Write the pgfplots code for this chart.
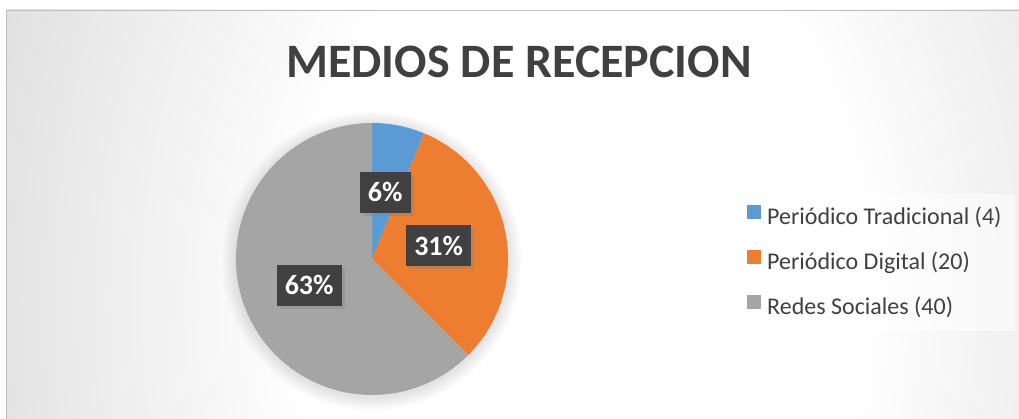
\documentclass[border=0pt]{standalone}
\usepackage{pgfplots}
\pgfplotsset{compat=1.18}
\usepackage{pgfplotstable}
\usepackage{fontspec}
\setmainfont{Carlito}
\usetikzlibrary{shadows}

\definecolor{slice0}{HTML}{5B9BD5}
\definecolor{slice1}{HTML}{ED7D31}
\definecolor{slice2}{HTML}{A5A5A5}
\definecolor{txt}{HTML}{404040}

\pgfdeclareradialshading{chartbg}{\pgfpoint{0bp}{0bp}}{%
  color(0bp)=(white); color(10bp)=(white); color(21bp)=(black!11);
  color(31bp)=(black!22); color(50bp)=(black!25)}

% values of the pie, clockwise from 12 o'clock
\pgfplotstableread{
id value
0 4
1 20
2 40
}\piedata

\tikzset{lbl/.style={fill=txt, text=white,
    font=\bfseries\fontsize{28}{33}\selectfont,
    inner xsep=8pt, inner ysep=0pt, minimum height=41pt,
    drop shadow={shadow xshift=3pt, shadow yshift=-3pt, opacity=0.35}}}

\begin{document}
\begin{tikzpicture}[x=1pt,y=1pt]
\useasboundingbox (0,0) rectangle (1019,419);
\begin{scope}
  \clip (6,0) rectangle (1019,409);
  \shade[shading=chartbg] (580,119) ellipse [x radius=700, y radius=1000];
\end{scope}
\draw[black!25, line width=0.8pt] (6,0) -- (6,409) -- (1019,409);

% soft shadow round the pie
\foreach \r in {1,...,14} \fill[black, opacity=0.008] (372,158) circle (136+\r);

\node[font=\bfseries\fontsize{48}{57}\selectfont, text=txt] at (519,357) {MEDIOS DE RECEPCION};

% total of the values
\pgfplotstablegetrowsof{\piedata}
\pgfmathtruncatemacro{\nrows}{\pgfplotsretval-1}
\gdef\total{0}
\foreach \i in {0,...,\nrows}{%
  \pgfplotstablegetelem{\i}{value}\of\piedata
  \pgfmathsetmacro{\s}{\total+\pgfplotsretval}\xdef\total{\s}}

\begin{axis}[
  at={(372pt,160pt)}, anchor=origin,
  x=136pt, y=136pt,
  xmin=-1, xmax=1, ymin=-1, ymax=1,
  hide axis, clip=false,
  legend image code/.code={\fill[#1, fill opacity=1] (0pt,0pt) rectangle (14pt,14pt);},
  legend cell align=left,
  legend style={at={(axis description cs:1.831,0.740)}, anchor=north west,
    draw=none, fill=white, fill opacity=0.5, text opacity=1,
    inner xsep=13pt, inner ysep=11pt, row sep=20pt,
    font=\fontsize{24}{29}\selectfont,
    nodes={inner sep=0pt, text height=17pt, text depth=5pt, text=txt},
    /tikz/every odd column/.append style={column sep=6pt}},
]
\gdef\cum{0}
\pgfplotsforeachungrouped \i in {0,...,\nrows}{%
  \pgfplotstablegetelem{\i}{value}\of\piedata
  \let\val\pgfplotsretval
  \pgfmathsetmacro{\a}{90-360*(\cum/\total)}
  \pgfmathsetmacro{\b}{90-360*((\cum+\val)/\total)}
  \edef\doslice{\noexpand\addplot[fill=slice\i, draw=none, domain=\b:\a,
      samples=90, variable=\noexpand\tt]
    ({cos(\noexpand\tt)},{sin(\noexpand\tt)}) -- (axis cs:0,0) -- cycle;}
  \doslice
  \pgfmathsetmacro{\c}{\cum+\val}\xdef\cum{\c}
}
\legend{Periódico Tradicional (4), Periódico Digital (20), Redes Sociales (40)}

% percentage labels at half the radius
\gdef\cum{0}
\pgfplotsforeachungrouped \i in {0,...,\nrows}{%
  \pgfplotstablegetelem{\i}{value}\of\piedata
  \let\val\pgfplotsretval
  \pgfmathsetmacro{\m}{90-360*((\cum+\val/2)/\total)}
  \pgfmathsetmacro{\lx}{0.5*cos(\m)}
  \pgfmathsetmacro{\ly}{0.5*sin(\m)}
  \pgfmathtruncatemacro{\p}{round(100*(\val/\total))}
  \edef\dolabel{\noexpand\node[lbl] at (axis cs:\lx,\ly) {\p\noexpand\%};}
  \dolabel
  \pgfmathsetmacro{\c}{\cum+\val}\xdef\cum{\c}
}
\end{axis}
\end{tikzpicture}
\end{document}
